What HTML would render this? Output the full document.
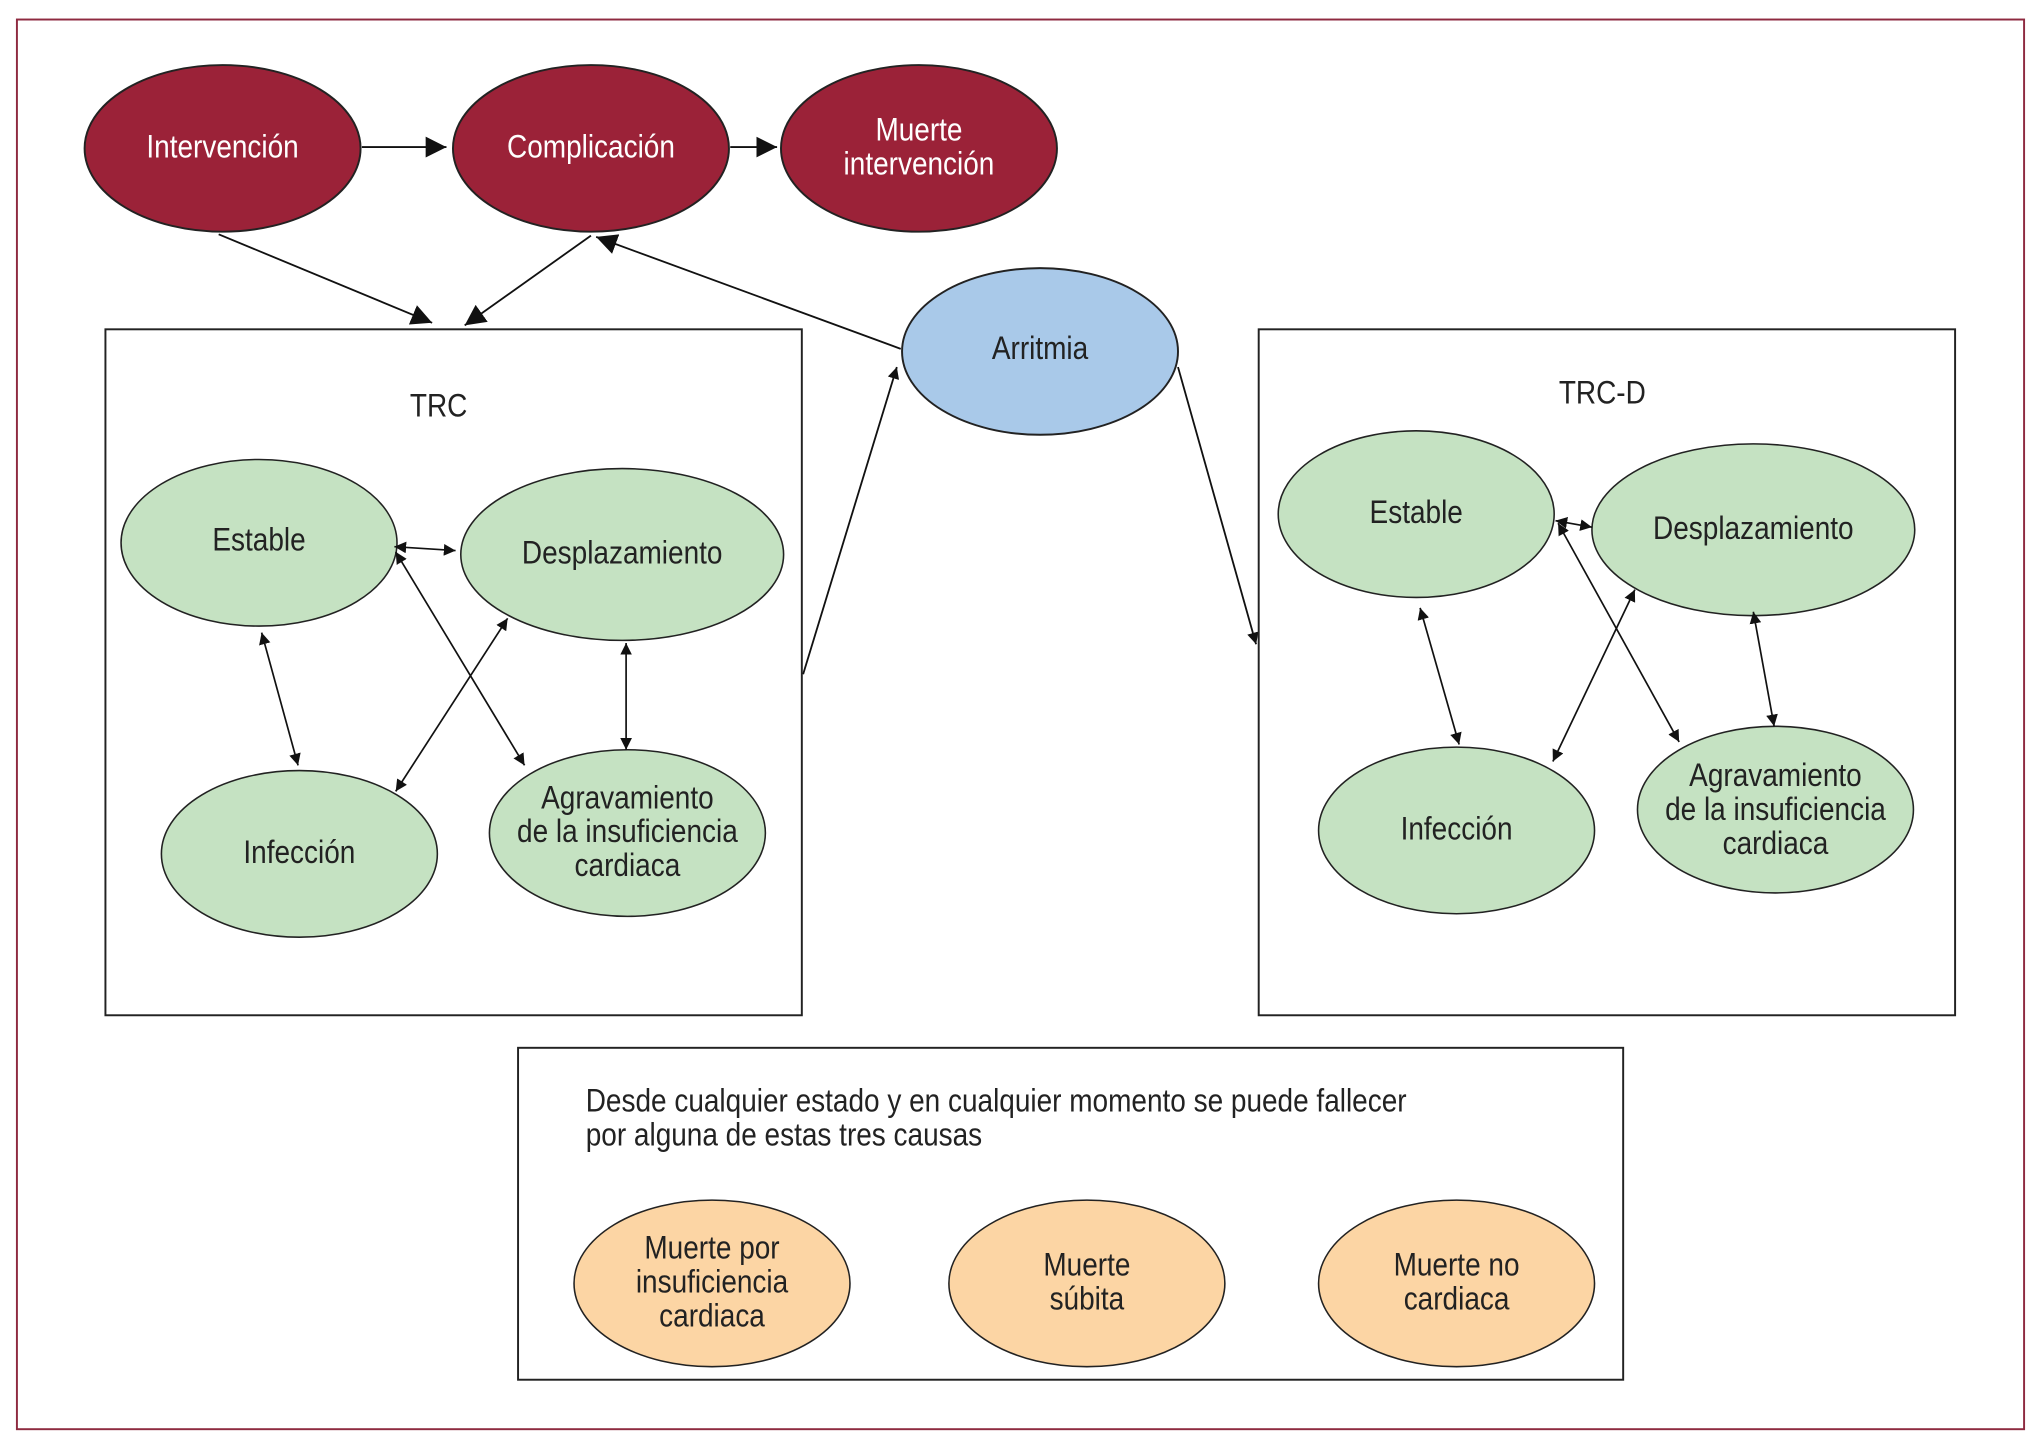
<!DOCTYPE html>
<html><head><meta charset="utf-8"><style>
html,body{margin:0;padding:0;background:#fff;}
svg{display:block;}
text{font-family:"Liberation Sans Narrow","Liberation Sans",sans-serif;font-size:25px;text-anchor:middle;fill:#222;transform-box:fill-box;transform-origin:center;transform:scaleX(0.86);}
text.l{text-anchor:start;transform-origin:left center;}
.w{fill:#fff;}
</style></head><body>
<svg width="2041" height="1437" viewBox="0 0 1568 1104" preserveAspectRatio="none" xmlns="http://www.w3.org/2000/svg">
<defs>
<marker id="a" viewBox="0 0 10 10" refX="10" refY="5" markerWidth="9" markerHeight="9" markerUnits="userSpaceOnUse" orient="auto-start-reverse"><path d="M0,0L10,5L0,10z" fill="#111"/></marker>
<marker id="b" viewBox="0 0 10 10" refX="10" refY="5" markerWidth="16" markerHeight="16" markerUnits="userSpaceOnUse" orient="auto-start-reverse"><path d="M0,0L10,5L0,10z" fill="#111"/></marker>
</defs>
<rect x="13" y="15" width="1542" height="1083" fill="none" stroke="#8e2a40" stroke-width="1.5"/>
<g stroke="#222" stroke-width="1.5">
<ellipse cx="171" cy="114" rx="106" ry="64" fill="#9b2238"/>
<ellipse cx="454" cy="114" rx="106" ry="64" fill="#9b2238"/>
<ellipse cx="706" cy="114" rx="106" ry="64" fill="#9b2238"/>
<ellipse cx="799" cy="270" rx="106" ry="64" fill="#a9c9e9"/>
</g>
<text class="w" x="171" y="121">Intervención</text>
<text class="w" x="454" y="121">Complicación</text>
<text class="w" x="706" y="108">Muerte</text>
<text class="w" x="706" y="134">intervención</text>
<text x="799" y="276">Arritmia</text>
<g stroke="#111" stroke-width="1.4" fill="none">
<line x1="278" y1="113" x2="343" y2="113" marker-end="url(#b)"/>
<line x1="561" y1="113" x2="597" y2="113" marker-end="url(#b)"/>
<line x1="168" y1="180" x2="332" y2="248" marker-end="url(#b)"/>
<line x1="454" y1="181" x2="357" y2="250" marker-end="url(#b)"/>
<line x1="692" y1="268" x2="458" y2="182" marker-end="url(#b)"/>
<line x1="617" y1="518" x2="689" y2="282" marker-end="url(#a)"/>
<line x1="905" y1="282" x2="965" y2="495" marker-end="url(#a)"/>
</g>
<rect x="81" y="253" width="535" height="527" fill="none" stroke="#222" stroke-width="1.5"/>
<rect x="967" y="253" width="535" height="527" fill="none" stroke="#222" stroke-width="1.5"/>
<text x="337" y="320">TRC</text>
<text x="1231" y="310">TRC-D</text>
<g stroke="#222" stroke-width="1.2" fill="#c5e2c2">
<ellipse cx="199" cy="417" rx="106" ry="64"/>
<ellipse cx="478" cy="426" rx="124" ry="66"/>
<ellipse cx="230" cy="656" rx="106" ry="64"/>
<ellipse cx="482" cy="640" rx="106" ry="64"/>
<ellipse cx="1088" cy="395" rx="106" ry="64"/>
<ellipse cx="1347" cy="407" rx="124" ry="66"/>
<ellipse cx="1119" cy="638" rx="106" ry="64"/>
<ellipse cx="1364" cy="622" rx="106" ry="64"/>
</g>
<text x="199" y="423">Estable</text>
<text x="478" y="433">Desplazamiento</text>
<text x="230" y="663">Infección</text>
<text x="482" y="621">Agravamiento</text>
<text x="482" y="647">de la insuficiencia</text>
<text x="482" y="673">cardiaca</text>
<text x="1088" y="402">Estable</text>
<text x="1347" y="414">Desplazamiento</text>
<text x="1119" y="645">Infección</text>
<text x="1364" y="604">Agravamiento</text>
<text x="1364" y="630">de la insuficiencia</text>
<text x="1364" y="656">cardiaca</text>
<g stroke="#111" stroke-width="1.3" fill="none">
<line x1="303" y1="420" x2="350" y2="423" marker-start="url(#a)" marker-end="url(#a)"/>
<line x1="201" y1="486" x2="229" y2="588" marker-start="url(#a)" marker-end="url(#a)"/>
<line x1="304" y1="424" x2="403" y2="588" marker-start="url(#a)" marker-end="url(#a)"/>
<line x1="390" y1="475" x2="304" y2="608" marker-start="url(#a)" marker-end="url(#a)"/>
<line x1="481" y1="494" x2="481" y2="576" marker-start="url(#a)" marker-end="url(#a)"/>
<line x1="1195" y1="400" x2="1223" y2="405" marker-start="url(#a)" marker-end="url(#a)"/>
<line x1="1091" y1="467" x2="1121" y2="572" marker-start="url(#a)" marker-end="url(#a)"/>
<line x1="1197" y1="402" x2="1290" y2="570" marker-start="url(#a)" marker-end="url(#a)"/>
<line x1="1256" y1="453" x2="1193" y2="585" marker-start="url(#a)" marker-end="url(#a)"/>
<line x1="1347" y1="470" x2="1363" y2="558" marker-start="url(#a)" marker-end="url(#a)"/>
</g>
<rect x="398" y="805" width="849" height="255" fill="none" stroke="#222" stroke-width="1.5"/>
<text class="l" x="450" y="854">Desde cualquier estado y en cualquier momento se puede fallecer</text>
<text class="l" x="450" y="880">por alguna de estas tres causas</text>
<g stroke="#222" stroke-width="1.2" fill="#fcd5a4">
<ellipse cx="547" cy="986" rx="106" ry="64"/>
<ellipse cx="835" cy="986" rx="106" ry="64"/>
<ellipse cx="1119" cy="986" rx="106" ry="64"/>
</g>
<text x="547" y="967">Muerte  por</text>
<text x="547" y="993">insuficiencia</text>
<text x="547" y="1019">cardiaca</text>
<text x="835" y="980">Muerte</text>
<text x="835" y="1006">súbita</text>
<text x="1119" y="980">Muerte no</text>
<text x="1119" y="1006">cardiaca</text>
</svg>
</body></html>
